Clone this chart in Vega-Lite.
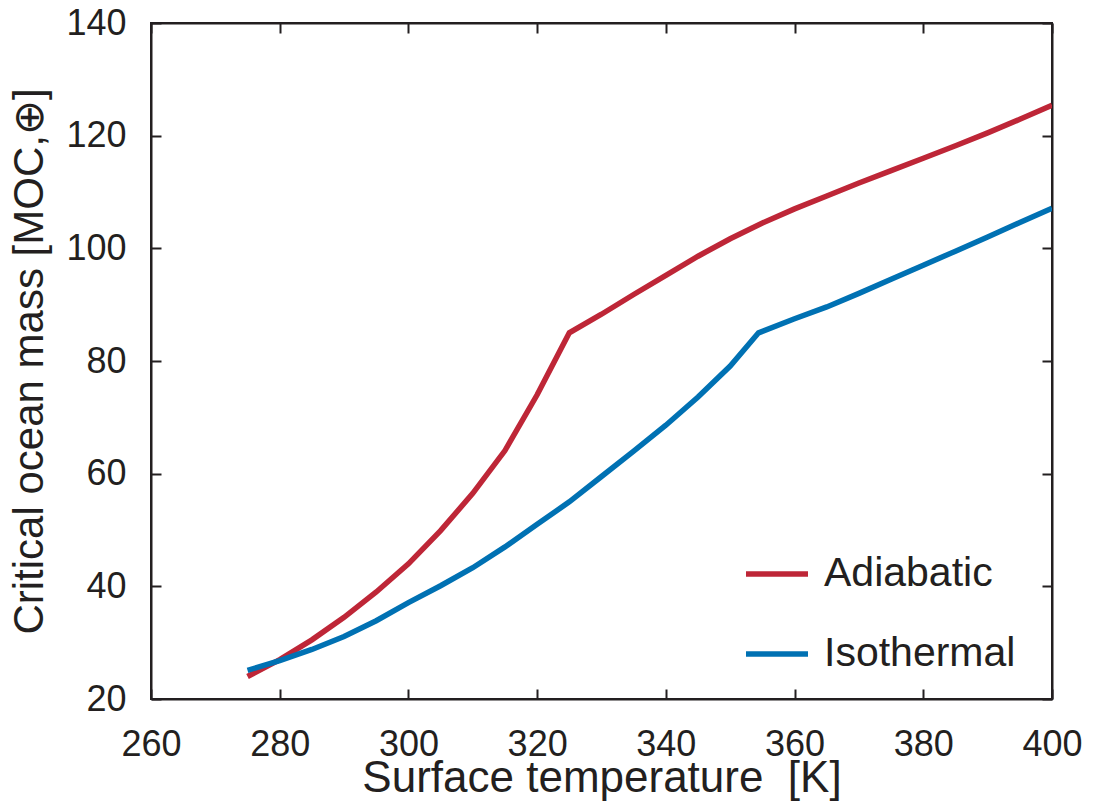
{
  "$schema": "https://vega.github.io/schema/vega-lite/v6.json",
  "width": 901,
  "height": 676,
  "autosize": {"type": "none"},
  "padding": {"left": 151, "top": 23, "right": 45, "bottom": 106},
  "background": "white",
  "config": {
    "font": "Liberation Sans",
    "view": {"stroke": "#231f20", "strokeWidth": 2},
    "axis": {
      "grid": false,
      "domainColor": "#231f20",
      "domainWidth": 2,
      "tickColor": "#231f20",
      "tickWidth": 2,
      "tickSize": -10,
      "labelFont": "Liberation Sans",
      "labelFontSize": 36,
      "labelColor": "#231f20",
      "titleFont": "Liberation Sans",
      "titleFontSize": 44,
      "titleFontWeight": "normal",
      "titleColor": "#231f20"
    }
  },
  "data": {
    "values": [
      {"T": 275, "M": 24.0, "model": "Adiabatic"},
      {"T": 280, "M": 27.0, "model": "Adiabatic"},
      {"T": 285, "M": 30.5, "model": "Adiabatic"},
      {"T": 290, "M": 34.5, "model": "Adiabatic"},
      {"T": 295, "M": 39.0, "model": "Adiabatic"},
      {"T": 300, "M": 44.0, "model": "Adiabatic"},
      {"T": 305, "M": 49.9, "model": "Adiabatic"},
      {"T": 310, "M": 56.5, "model": "Adiabatic"},
      {"T": 315, "M": 64.1, "model": "Adiabatic"},
      {"T": 320, "M": 74.0, "model": "Adiabatic"},
      {"T": 325, "M": 85.0, "model": "Adiabatic"},
      {"T": 330, "M": 88.3, "model": "Adiabatic"},
      {"T": 335, "M": 91.8, "model": "Adiabatic"},
      {"T": 340, "M": 95.2, "model": "Adiabatic"},
      {"T": 345, "M": 98.6, "model": "Adiabatic"},
      {"T": 350, "M": 101.7, "model": "Adiabatic"},
      {"T": 355, "M": 104.5, "model": "Adiabatic"},
      {"T": 360, "M": 107.0, "model": "Adiabatic"},
      {"T": 365, "M": 109.3, "model": "Adiabatic"},
      {"T": 370, "M": 111.6, "model": "Adiabatic"},
      {"T": 375, "M": 113.8, "model": "Adiabatic"},
      {"T": 380, "M": 116.0, "model": "Adiabatic"},
      {"T": 385, "M": 118.2, "model": "Adiabatic"},
      {"T": 390, "M": 120.5, "model": "Adiabatic"},
      {"T": 395, "M": 122.9, "model": "Adiabatic"},
      {"T": 400, "M": 125.4, "model": "Adiabatic"},
      {"T": 275, "M": 25.1, "model": "Isothermal"},
      {"T": 280, "M": 26.8, "model": "Isothermal"},
      {"T": 285, "M": 28.8, "model": "Isothermal"},
      {"T": 290, "M": 31.1, "model": "Isothermal"},
      {"T": 295, "M": 33.9, "model": "Isothermal"},
      {"T": 300, "M": 37.1, "model": "Isothermal"},
      {"T": 305, "M": 40.1, "model": "Isothermal"},
      {"T": 310, "M": 43.3, "model": "Isothermal"},
      {"T": 315, "M": 47.0, "model": "Isothermal"},
      {"T": 320, "M": 51.0, "model": "Isothermal"},
      {"T": 325, "M": 55.0, "model": "Isothermal"},
      {"T": 330, "M": 59.5, "model": "Isothermal"},
      {"T": 335, "M": 64.0, "model": "Isothermal"},
      {"T": 340, "M": 68.6, "model": "Isothermal"},
      {"T": 345, "M": 73.6, "model": "Isothermal"},
      {"T": 350, "M": 79.1, "model": "Isothermal"},
      {"T": 354.4, "M": 85.0, "model": "Isothermal"},
      {"T": 360, "M": 87.5, "model": "Isothermal"},
      {"T": 365, "M": 89.6, "model": "Isothermal"},
      {"T": 370, "M": 92.0, "model": "Isothermal"},
      {"T": 375, "M": 94.5, "model": "Isothermal"},
      {"T": 380, "M": 97.0, "model": "Isothermal"},
      {"T": 385, "M": 99.5, "model": "Isothermal"},
      {"T": 390, "M": 102.0, "model": "Isothermal"},
      {"T": 395, "M": 104.6, "model": "Isothermal"},
      {"T": 400, "M": 107.1, "model": "Isothermal"}
    ]
  },
  "layer": [
    {
      "mark": {"type": "line", "strokeWidth": 5.5, "clip": true},
      "encoding": {
        "x": {
          "field": "T", "type": "quantitative",
          "scale": {"domain": [260, 400], "nice": false, "zero": false},
          "axis": {"orient": "bottom", "values": [260, 280, 300, 320, 340, 360, 380, 400], "title": "Surface temperature\u00a0\u00a0[K]", "labelPadding": 38, "titlePadding": -6, "labelFlush": false}
        },
        "y": {
          "field": "M", "type": "quantitative",
          "scale": {"domain": [20, 140], "nice": false, "zero": false},
          "axis": {"orient": "left", "values": [20, 40, 60, 80, 100, 120, 140], "title": "Critical ocean mass [MOC,⊕]", "titleFontSize": 42, "labelPadding": 35, "titlePadding": 14, "labelFlush": false}
        },
        "color": {
          "field": "model", "type": "nominal",
          "scale": {"domain": ["Adiabatic", "Isothermal"], "range": ["#BE2637", "#0071B3"]},
          "legend": {
            "orient": "none", "legendX": 592, "legendY": 517,
            "title": null, "symbolType": "stroke", "symbolSize": 3844,
            "symbolStrokeWidth": 5.5, "labelFontSize": 41, "labelFont": "Liberation Sans",
            "labelColor": "#231f20", "labelOffset": 13, "rowPadding": 26, "padding": 0,
            "labelLimit": 400
          }
        }
      }
    },
    {
      "mark": {"type": "line", "strokeWidth": 5, "strokeOpacity": 0},
      "encoding": {
        "x": {"field": "T", "type": "quantitative", "axis": {"orient": "top", "values": [260, 280, 300, 320, 340, 360, 380, 400], "labels": false, "title": null}},
        "y": {"field": "M", "type": "quantitative", "axis": {"orient": "right", "values": [20, 40, 60, 80, 100, 120, 140], "labels": false, "title": null}},
        "detail": {"field": "model"}
      }
    }
  ],
  "resolve": {"axis": {"x": "independent", "y": "independent"}}
}
